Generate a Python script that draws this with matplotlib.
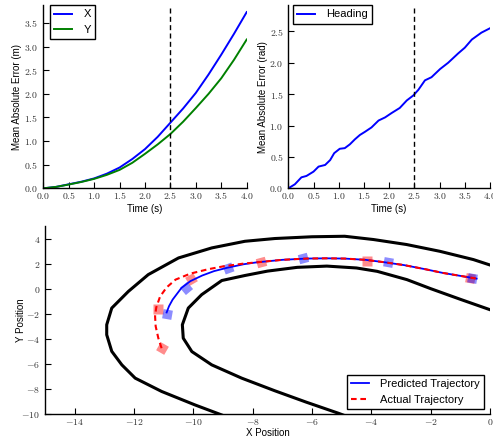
import numpy as np
import matplotlib
matplotlib.use('Agg')
import matplotlib.pyplot as plt
from matplotlib.ticker import FuncFormatter, MultipleLocator

plt.rcParams['font.family'] = ['Liberation Sans', 'DejaVu Sans']
plt.rcParams['mathtext.fontset'] = 'cm'

# position error over time
time_xy = [0.0, 0.25, 0.5, 0.75, 1.0, 1.25, 1.5, 1.75, 2.0, 2.25, 2.5, 2.75, 3.0, 3.25, 3.5, 3.75, 4.0]
err_x = [0.0, 0.03, 0.085, 0.14, 0.21, 0.31, 0.44, 0.62, 0.83, 1.09, 1.39, 1.69, 2.02, 2.41, 2.83, 3.27, 3.73]
err_y = [0.0, 0.03, 0.08, 0.135, 0.2, 0.285, 0.39, 0.54, 0.73, 0.93, 1.15, 1.41, 1.70, 2.0, 2.33, 2.72, 3.15]

# heading error over time
time_h = [0.0, 0.13, 0.26, 0.36, 0.5, 0.6, 0.73, 0.83, 0.91, 1.02, 1.12, 1.22, 1.32, 1.42, 1.52, 1.65,
          1.79, 1.92, 2.05, 2.21, 2.35, 2.48, 2.58, 2.71, 2.84, 3.01, 3.17, 3.37, 3.5, 3.64, 3.83, 4.0]
err_h = [0.0, 0.064, 0.175, 0.197, 0.266, 0.346, 0.372, 0.45, 0.56, 0.63, 0.64, 0.70, 0.78, 0.85, 0.90, 0.97,
         1.08, 1.13, 1.20, 1.28, 1.40, 1.48, 1.57, 1.72, 1.77, 1.90, 2.0, 2.15, 2.24, 2.37, 2.48, 2.55]

horizon = 2.5

# track boundaries
outer_x = [-8.5, -9.04, -9.94, -11.07, -11.96, -12.41, -12.75, -12.92, -12.92, -12.75, -12.19, -11.52,
           -10.5, -9.38, -8.26, -7.25, -6.0, -4.9, -3.93, -2.81, -1.69, -0.56, 0.5]
outer_y = [-10.6, -10.08, -9.28, -8.2, -7.14, -6.08, -5.0, -3.68, -2.88, -1.55, -0.22, 1.12,
           2.45, 3.25, 3.78, 4.0, 4.14, 4.18, 3.92, 3.52, 2.98, 2.32, 1.5]
inner_x = [-4.7, -5.11, -6.2, -7.25, -8.37, -9.38, -10.05, -10.34, -10.37, -10.17, -9.72, -9.04,
           -8.26, -7.5, -6.5, -5.5, -4.5, -3.8, -2.8, -2.0, -1.0, 0.0, 0.5]
inner_y = [-10.3, -9.94, -9.05, -8.15, -7.14, -6.08, -5.02, -3.95, -2.88, -1.55, -0.48, 0.65,
           1.05, 1.4, 1.7, 1.8, 1.65, 1.38, 0.72, 0.0, -0.85, -1.68, -2.1]

# trajectories
pred_x = [-10.9, -10.82, -10.7, -10.4, -10.1, -9.7, -9.3, -8.87, -8.3, -7.86, -7.0, -6.2, -5.5, -4.9,
          -4.2, -3.6, -2.9, -2.2, -1.6, -1.0, -0.45]
pred_y = [-1.9, -1.4, -0.88, 0.06, 0.6, 1.05, 1.4, 1.66, 1.95, 2.1, 2.3, 2.4, 2.42, 2.4,
          2.3, 2.12, 1.88, 1.56, 1.26, 1.02, 0.8]
act_x = [-11.07, -11.18, -11.27, -11.29, -11.25, -11.12, -10.9, -10.6, -10.1, -9.5, -8.99, -8.3, -7.86,
         -7.0, -6.2, -5.5, -4.9, -4.2, -3.6, -2.9, -2.2, -1.6, -1.0, -0.45]
act_y = [-4.75, -3.95, -3.0, -2.2, -1.5, -0.62, 0.1, 0.72, 1.2, 1.55, 1.78, 2.0, 2.1,
         2.3, 2.4, 2.42, 2.4, 2.3, 2.12, 1.88, 1.56, 1.26, 1.02, 0.8]

# vehicle footprints (x, y, heading deg)
pred_box_x = [-10.9, -10.26, -8.82, -6.29, -3.43, -0.62]
pred_box_y = [-2.02, 0.06, 1.66, 2.44, 2.1, 0.86]
pred_box_a = [-10, 40, 20, 15, -10, -10]
act_box_x = [-11.07, -11.18, -10.08, -7.72, -4.16, -0.67]
act_box_y = [-4.75, -1.6, 0.8, 2.15, 2.2, 0.86]
act_box_a = [-30, 0, 30, 15, 0, -10]

fig = plt.figure(figsize=(4.93, 4.4), dpi=100)
ax1 = fig.add_axes([0.0878, 0.572, 0.4126, 0.4166])
ax2 = fig.add_axes([0.5848, 0.572, 0.4091, 0.4166])
ax3 = fig.add_axes([0.0913, 0.0591, 0.9026, 0.4273])

math1 = FuncFormatter(lambda v, p: r'$%.1f$' % v)
mathint = FuncFormatter(lambda v, p: r'$%d$' % round(v))


def style(ax):
    for s in ['top', 'right']:
        ax.spines[s].set_visible(False)
    for s in ['left', 'bottom']:
        ax.spines[s].set_linewidth(1.0)
    ax.tick_params(direction='in', length=4, width=0.8, labelsize=7, pad=3.5,
                   top=False, right=False, colors='k', labelcolor='#333333')
    # baseline-align the x labels so mathtext digits sit on one line
    ax.tick_params(axis='x', pad=8)


def legend(ax, **kw):
    leg = ax.legend(fontsize=8, handlelength=1.6, handletextpad=1.0, fancybox=False,
                    framealpha=1, edgecolor='k', borderaxespad=0, **kw)
    leg.get_frame().set_linewidth(1.0)
    return leg


dash_k = (0, (3.6, 2.4))

ax1.plot(time_xy, err_x, color='#0000ff', lw=1.4, label='X')
ax1.plot(time_xy, err_y, color='#008000', lw=1.4, label='Y')
ax1.axvline(horizon, color='k', ls=dash_k, lw=1)
ax1.set_xlim(0, 4)
ax1.set_ylim(0, 3.88)
ax1.xaxis.set_major_locator(MultipleLocator(0.5))
ax1.yaxis.set_major_locator(MultipleLocator(0.5))
ax1.xaxis.set_major_formatter(math1)
ax1.yaxis.set_major_formatter(math1)
ax1.set_xlabel('Time (s)', fontsize=7)
ax1.set_ylabel('Mean Absolute Error (m)', fontsize=7)
ax1.xaxis.set_label_coords(0.5, -0.085)
ax1.yaxis.set_label_coords(-0.107, 0.5)
style(ax1)
legend(ax1, loc='upper left', bbox_to_anchor=(0.033, 1.0))

ax2.plot(time_h, err_h, color='#0000ff', lw=1.4, label='Heading')
ax2.axvline(horizon, color='k', ls=dash_k, lw=1)
ax2.set_xlim(0, 4)
ax2.set_ylim(0, 2.92)
ax2.xaxis.set_major_locator(MultipleLocator(0.5))
ax2.yaxis.set_major_locator(MultipleLocator(0.5))
ax2.xaxis.set_major_formatter(math1)
ax2.yaxis.set_major_formatter(math1)
ax2.set_xlabel('Time (s)', fontsize=7)
ax2.set_ylabel('Mean Absolute Error (rad)', fontsize=7)
ax2.xaxis.set_label_coords(0.5, -0.085)
ax2.yaxis.set_label_coords(-0.102, 0.5)
style(ax2)
legend(ax2, loc='upper left', bbox_to_anchor=(0.023, 1.0))

ax3.plot(outer_x, outer_y, color='k', lw=2.2)
ax3.plot(inner_x, inner_y, color='k', lw=2.2)
for x, y, a in zip(act_box_x, act_box_y, act_box_a):
    ax3.plot(x, y, marker=(4, 0, a + 45), ms=9.5, color='#ff0000', alpha=0.45, mec='none', ls='none')
for x, y, a in zip(pred_box_x, pred_box_y, pred_box_a):
    ax3.plot(x, y, marker=(4, 0, a + 45), ms=9.5, color='#0000ff', alpha=0.45, mec='none', ls='none')
ax3.plot(pred_x, pred_y, color='#0000ff', lw=1.3, label='Predicted Trajectory')
ax3.plot(act_x, act_y, color='#ff0000', lw=1.5, ls=(0, (2.7, 1.8)), label='Actual Trajectory')
ax3.set_xlim(-15, 0)
ax3.set_ylim(-10, 5)
ax3.xaxis.set_major_locator(MultipleLocator(2))
ax3.yaxis.set_major_locator(MultipleLocator(2))
ax3.xaxis.set_major_formatter(mathint)
ax3.yaxis.set_major_formatter(mathint)
ax3.set_xlabel('X Position', fontsize=7)
ax3.set_ylabel('Y Position', fontsize=7)
ax3.xaxis.set_label_coords(0.5, -0.077)
ax3.yaxis.set_label_coords(-0.043, 0.5)
style(ax3)
legend(ax3, loc='lower right', bbox_to_anchor=(0.987, 0.025))

fig.canvas.draw()
for ax in (ax1, ax2, ax3):
    for lab in ax.get_xticklabels():
        lab.set_verticalalignment('baseline')

fig.savefig('out.png', dpi=100)
